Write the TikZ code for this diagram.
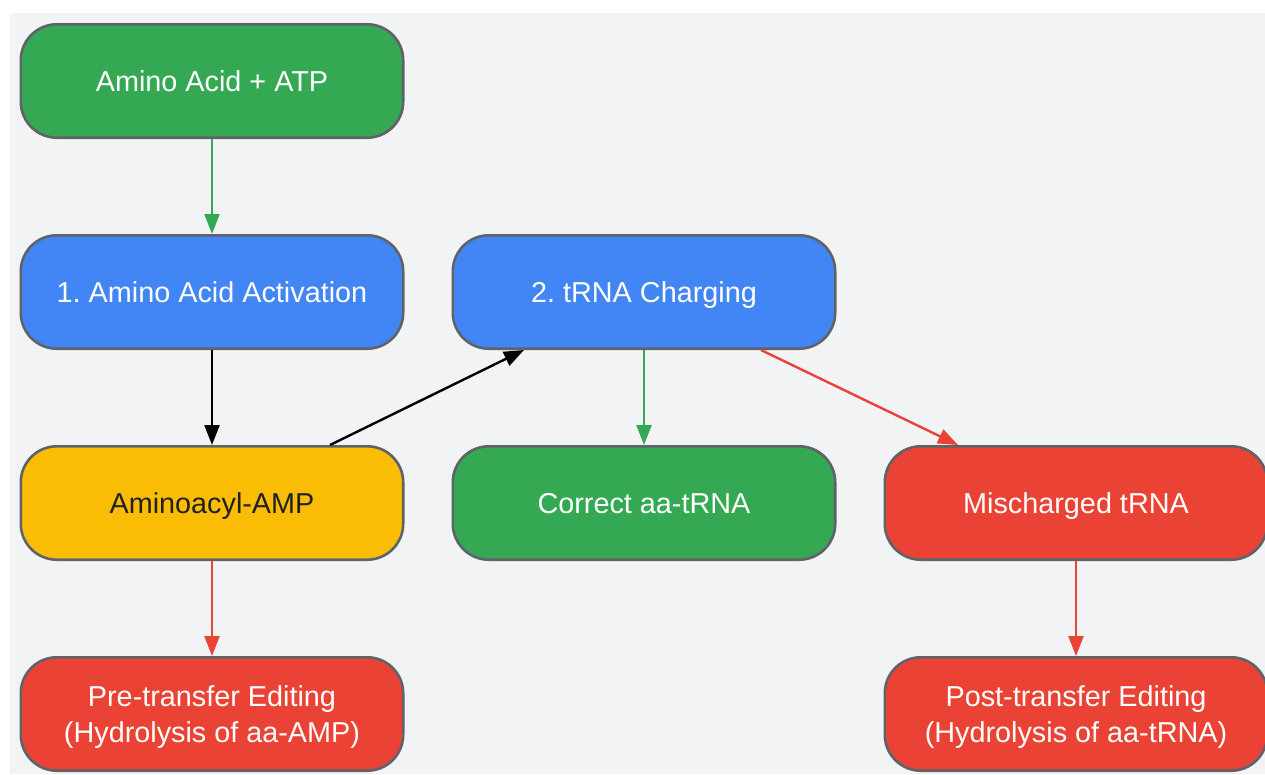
\documentclass[tikz,border=0pt]{standalone}
\usepackage{fontspec}
\setmainfont{Liberation Sans}
\frenchspacing
\usetikzlibrary{arrows.meta,positioning}

\definecolor{bggray}{HTML}{F1F3F4}
\definecolor{edgegray}{HTML}{5F6368}
\definecolor{gGreen}{HTML}{34A853}
\definecolor{gBlue}{HTML}{4285F4}
\definecolor{gYellow}{HTML}{FBBC04}
\definecolor{gRed}{HTML}{EA4335}
\definecolor{darktext}{HTML}{202124}

\tikzset{
  box/.style={draw=edgegray, line width=2.6pt, rounded corners=36pt,
    minimum width=382.4pt, minimum height=113.4pt, align=center,
    text=white, font=\fontsize{28.8}{36}\selectfont,
    text height=25pt, text depth=4.4pt},
  twoline/.style={text height=61pt, text depth=4.4pt},
  okarrow/.style={gGreen},
  badarrow/.style={gRed},
}

\begin{document}
\begin{tikzpicture}[x=1pt,y=1pt,->,>={Triangle[length=20pt,width=15pt]},line width=2.4pt,node distance=95pt and 47pt]
        \useasboundingbox (0,0) rectangle (1265,-774);
        \fill[bggray] (10,-13) rectangle (1265,-774);

        \node[box,fill=gGreen] (A) at (212,-81)            {Amino Acid + ATP};
        \node[box,fill=gBlue]  (B) [below=of A]            {1. Amino Acid Activation};
        \node[box,fill=gBlue]  (C) [right=of B]            {2. tRNA Charging};
        \node[box,fill=gYellow,text=darktext] (D) [below=of B] {Aminoacyl-AMP};
        \node[box,fill=gGreen] (E) [below=of C]            {Correct aa-tRNA};
        \node[box,fill=gRed]   (F) [right=of E]            {Mischarged tRNA};
        \node[box,twoline,fill=gRed] (G) [below=of D]      {Pre-transfer Editing\\(Hydrolysis of aa-AMP)};
        \node[box,twoline,fill=gRed] (H) [below=of F]      {Post-transfer Editing\\(Hydrolysis of aa-tRNA)};

        \path
        (A) edge[okarrow]       node {} (B)
        (B) edge                node {} (D)
        ([xshift=118pt]D.north) edge node {} ([xshift=-120pt]C.south)
        (C) edge[okarrow]       node {} (E)
        ([xshift=117pt]C.south) edge[badarrow] node {} ([xshift=-118pt]F.north)
        (D) edge[badarrow]      node {} (G)
        (F) edge[badarrow]      node {} (H);
\end{tikzpicture}
\end{document}
